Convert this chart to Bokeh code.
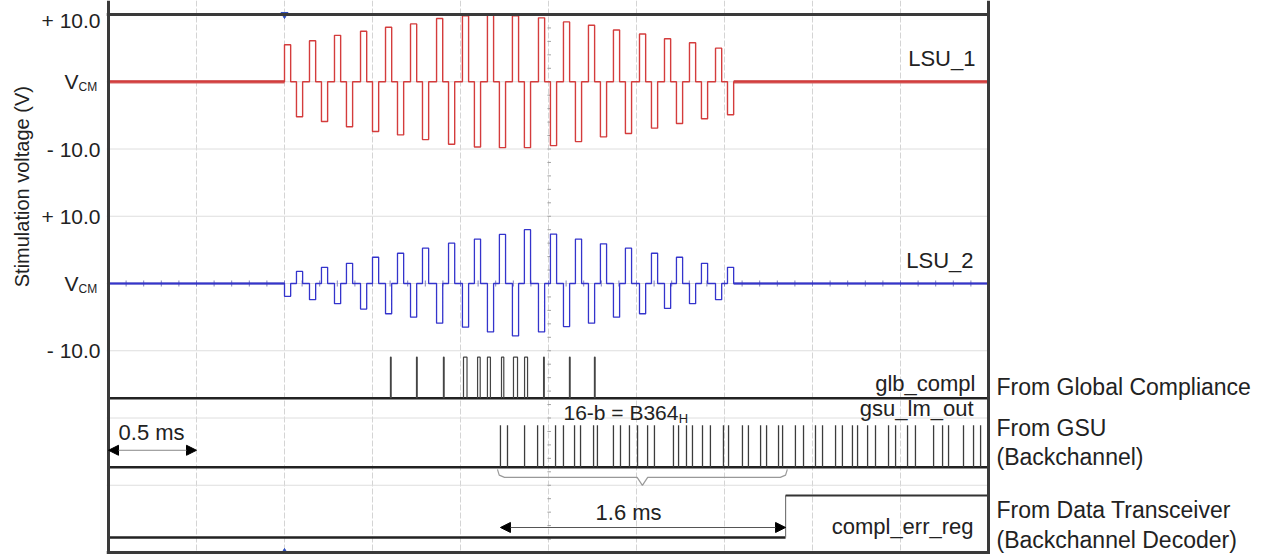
import numpy as np
from bokeh.plotting import figure
from bokeh.layouts import row
from bokeh.models import Range1d, Span, Arrow, NormalHead
from bokeh.core.properties import value
from bokeh.embed import file_html
from bokeh.resources import INLINE

# ---------------- data ----------------
# time axis in ms (10 divisions x 0.5 ms), stimulation cycle start times
cycle_start_ms = [1.000, 1.142, 1.284, 1.432, 1.574, 1.716, 1.864, 2.011, 2.153,
                  2.295, 2.443, 2.585, 2.727, 2.869, 3.017, 3.159, 3.301, 3.449]
phase_width_ms = 0.035
interphase_gap_ms = 0.033

# LSU_1 (red): positive phase first, then negative phase (V)
lsu1_pos_v = [5.5, 6.1, 6.9, 7.5, 8.1, 8.6, 9.4, 9.8, 9.9, 9.8, 9.5, 8.9, 8.4, 7.7, 7.1, 6.4, 5.8, 5.0]
lsu1_neg_v = [5.2, 5.9, 6.7, 7.4, 7.9, 8.6, 9.3, 9.7, 9.8, 9.8, 9.5, 8.9, 8.2, 7.7, 6.9, 6.2, 5.5, 4.9]
# LSU_2 (blue): negative phase first, then positive phase (V)
lsu2_neg_v = [1.9, 2.4, 3.0, 3.8, 4.5, 5.0, 5.9, 6.5, 7.2, 7.8, 7.2, 6.4, 5.9, 5.0, 4.5, 3.7, 3.0, 2.4]
lsu2_pos_v = [1.8, 2.4, 3.0, 3.9, 4.5, 5.25, 6.0, 6.6, 7.3, 8.0, 7.35, 6.6, 5.9, 5.25, 4.5, 3.9, 3.0, 2.4]

# glb_compl pulses (start ms, width ms)
glb_pulse_start_ms = [1.602, 1.750, 1.903, 2.017, 2.097, 2.153, 2.233, 2.301, 2.364, 2.472, 2.619, 2.761]
glb_pulse_width_ms = [0.004, 0.004, 0.004, 0.020, 0.015, 0.017, 0.013, 0.023, 0.017, 0.004, 0.004, 0.004]

# gsu_lm_out spikes (ms)
gsu_pulse_ms = [2.227, 2.267, 2.364, 2.438, 2.472, 2.540, 2.585, 2.648, 2.682, 2.756, 2.778,
                2.869, 2.909, 2.960, 3.006, 3.063, 3.102, 3.210, 3.239, 3.284, 3.318, 3.375,
                3.420, 3.494, 3.523, 3.602, 3.636, 3.705, 3.739, 3.807, 3.830, 3.903, 3.949,
                4.017, 4.057, 4.131, 4.170, 4.227, 4.256, 4.313, 4.358, 4.432, 4.472, 4.540,
                4.585, 4.688, 4.739, 4.773, 4.858, 4.915, 4.955]

# compl_err_reg rising edge (ms)
err_rise_ms = 3.847
code_start_ms = 2.227

y_tick_labels = ["+ 10.0", "V", "- 10.0"]

# ---------------- layout constants (graticule divisions) ----------------
T_END = 5.0
LSU1_MID, LSU2_MID = 7.0, 4.0
V_PER_DIV = 10.0
GLB_LO, GLB_HI = 2.294, 2.905
GSU_LO, GSU_HI = 1.266, 1.892
ERR_LO, ERR_HI = 0.223, 0.849
FONT = "Liberation Sans"
H = 554
TOP, BOT = 14, 2
PX_PER_DIV = (H - TOP - BOT) / 8.0
Y_EXT = Range1d(-BOT / PX_PER_DIV, 8 + TOP / PX_PER_DIV)

LEFT_W, MAIN_W = 106, 884
RIGHT_W = 1262 - LEFT_W - MAIN_W
PX_PER_MS = (MAIN_W - 4) / T_END
X_EXT = Range1d(-2 / PX_PER_MS, T_END + 2 / PX_PER_MS)


def make_fig(w, xr):
    f = figure(width=w, height=H, x_range=xr, y_range=Y_EXT,
               output_backend="svg", toolbar_location=None, title=None,
               x_axis_location=None, y_axis_location=None,
               min_border_left=0, min_border_right=0, min_border_top=0, min_border_bottom=0)
    f.outline_line_color = None
    f.grid.visible = False
    return f


left = make_fig(LEFT_W, Range1d(0, LEFT_W))
p = make_fig(MAIN_W, X_EXT)
right = make_fig(RIGHT_W, Range1d(0, RIGHT_W))

# graticule
for xv in np.arange(0.5, T_END, 0.5):
    p.add_layout(Span(location=float(xv), dimension="height", line_color="#d4d4d4",
                      line_width=1, line_dash="6 2", level="underlay"))
for yv in range(1, 8):
    p.add_layout(Span(location=yv, dimension="width", line_color="#dedede",
                      line_width=1, level="underlay"))
# minor ticks on centre axes
ty = np.arange(0.2, 8.0, 0.2)
p.segment(x0=2.5 - 0.006, x1=2.5 + 0.014, y0=ty, y1=ty, line_color="#a0a0a0", line_width=1)
tx = np.arange(0.1, T_END, 0.1)
p.segment(x0=tx, x1=tx, y0=LSU2_MID - 0.045, y1=LSU2_MID + 0.045, line_color="#8080c0", line_width=1)


def biphasic(first_amp, second_amp, first_sign):
    xs, ys = [0.0], [0.0]
    for t, a, b in zip(cycle_start_ms, first_amp, second_amp):
        t2 = t + phase_width_ms
        t3 = t2 + interphase_gap_ms
        t4 = t3 + phase_width_ms
        xs += [t, t, t2, t2, t3, t3, t4, t4]
        ys += [0, first_sign * a, first_sign * a, 0, 0, -first_sign * b, -first_sign * b, 0]
    xs.append(T_END)
    ys.append(0.0)
    return np.array(xs), np.array(ys)


# LSU_1
x1, v1 = biphasic(lsu1_pos_v, lsu1_neg_v, +1)
p.line([0, cycle_start_ms[0]], [LSU1_MID, LSU1_MID], line_color="#d46464", line_width=3.5)
p.line([x1[-2], T_END], [LSU1_MID, LSU1_MID], line_color="#d46464", line_width=3.5)
p.line(x1, LSU1_MID + v1 / V_PER_DIV, line_color="#d43c3c", line_width=1.4)

# LSU_2
x2, v2 = biphasic(lsu2_neg_v, lsu2_pos_v, -1)
p.line([0, cycle_start_ms[0]], [LSU2_MID, LSU2_MID], line_color="#2c2cb4", line_width=2.2)
p.line([x2[-2], T_END], [LSU2_MID, LSU2_MID], line_color="#2c2cb4", line_width=2.2)
p.line(x2, LSU2_MID + v2 / V_PER_DIV, line_color="#3434cc", line_width=1.3)

# glb_compl
p.line([0, T_END], [GLB_LO, GLB_LO], line_color="#222222", line_width=2.5)
gx, gy = [], []
for s, w in zip(glb_pulse_start_ms, glb_pulse_width_ms):
    gx.append([s, s, s + w, s + w])
    gy.append([GLB_LO, GLB_HI, GLB_HI, GLB_LO])
p.multi_line(gx, gy, line_color="#444444", line_width=1.2)

# gsu_lm_out
p.line([0, T_END], [GSU_LO, GSU_LO], line_color="#222222", line_width=2.5)
p.segment(x0=gsu_pulse_ms, x1=gsu_pulse_ms, y0=GSU_LO, y1=GSU_HI, line_color="#3c3c3c", line_width=1.3)

# compl_err_reg
p.line([0, err_rise_ms], [ERR_LO, ERR_LO], line_color="#222222", line_width=2.5)
p.line([err_rise_ms, err_rise_ms], [ERR_LO, ERR_HI], line_color="#777777", line_width=1.2)
p.line([err_rise_ms, T_END], [ERR_HI, ERR_HI], line_color="#333333", line_width=2)

# brace under the 16-bit code
bl, br = code_start_ms - 0.017, err_rise_ms + 0.01
mid = (bl + br) / 2
p.line([bl, bl + 0.01, bl + 0.04, mid - 0.03, mid, mid + 0.03, br - 0.04, br - 0.01, br],
       [1.237, 1.15, 1.117, 1.117, 0.998, 1.117, 1.117, 1.15, 1.237],
       line_color="#999999", line_width=1.2)

# screen frame (border of the scope graticule)
for loc in (0.0, T_END):
    p.add_layout(Span(location=loc, dimension="height", line_color="#3a3a3a", line_width=3))
for loc in (0.0, 8.0):
    p.add_layout(Span(location=loc, dimension="width", line_color="#3a3a3a", line_width=3))

# trigger markers
p.scatter([cycle_start_ms[0]], [8.0], marker="inverted_triangle", size=7, color="#2f4fbf")
p.scatter([cycle_start_ms[0]], [0.0], marker="triangle", size=7, color="#2f4fbf")

# arrows
p.add_layout(Arrow(start=NormalHead(size=10, fill_color="black", line_color="black"),
                   end=NormalHead(size=10, fill_color="black", line_color="black"),
                   x_start=0.0, y_start=1.52, x_end=0.5, y_end=1.52,
                   line_color="#888888", line_width=1))
p.add_layout(Arrow(start=NormalHead(size=10, fill_color="black", line_color="black"),
                   end=NormalHead(size=10, fill_color="black", line_color="black"),
                   x_start=code_start_ms, y_start=0.372, x_end=err_rise_ms, y_end=0.372,
                   line_color="#555555", line_width=1.2))


def txt(fig, x, y, text, size=22, align="left", angle=0.0, color="#222222"):
    fig.text(x=[x], y=[y], text=[text], text_font=value(FONT), text_font_size=f"{size}px",
             text_align=align, text_baseline="middle", angle=angle, text_color=color)


# y tick labels (left panel, x in pixels)
for mid_y, top_dy in ((LSU1_MID, 0.91), (LSU2_MID, 1.0)):
    txt(left, 100, mid_y + top_dy, y_tick_labels[0], size=21, align="right")
    txt(left, 78, mid_y, y_tick_labels[1], size=21, align="right")
    txt(left, 78, mid_y - 0.08, "CM", size=12)
    txt(left, 100, mid_y - 1.0, y_tick_labels[2], size=21, align="right")

txt(left, 21, 5.44, "Stimulation voltage (V)", size=20, align="center", angle=np.pi / 2)

# trace names
txt(p, 4.926, 7.34, "LSU_1", align="right")
txt(p, 4.915, 4.34, "LSU_2", align="right")
txt(p, 4.926, 2.52, "glb_compl", align="right")
txt(p, 4.915, 2.145, "gsu_lm_out", align="right")
txt(p, 4.915, 0.39, "compl_err_reg", align="right")

# right side sources (right panel, x in pixels)
txt(right, 6, 2.46, "From Global Compliance", size=23)
txt(right, 6, 1.85, "From GSU", size=23)
txt(right, 6, 1.415, "(Backchannel)", size=23)
txt(right, 6, 0.626, "From Data Transceiver", size=23)
txt(right, 6, 0.179, "(Backchannel Decoder)", size=23)

# annotations
txt(p, 0.057, 1.79, "0.5 ms")
txt(p, 2.585, 2.086, "16-b = B364", size=21)
txt(p, 3.24, 2.0, "H", size=13)
txt(p, 2.955, 0.596, "1.6 ms", align="center")

layout = row(left, p, right)
open("out.html", "w").write(file_html(layout, INLINE))
